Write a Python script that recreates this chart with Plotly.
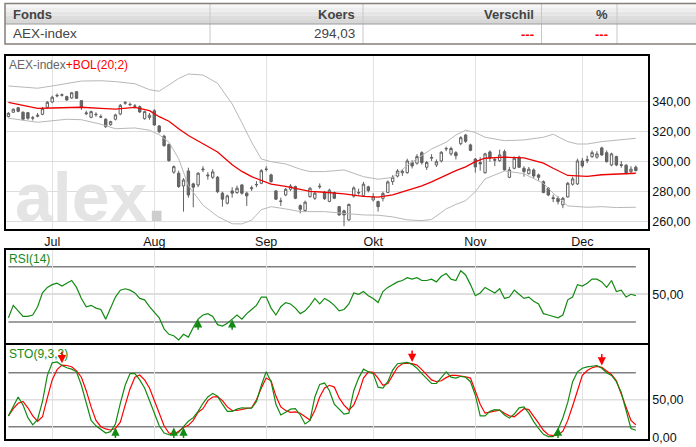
import pandas as pd
import plotly.graph_objects as go

W, H = 696, 447

# trading days shown on the chart (AEX, 20 jun - 16 dec 2011)
dates = pd.bdate_range("2011-06-20", "2011-12-16")
nl_months = {7: "Jul", 8: "Aug", 9: "Sep", 10: "Okt", 11: "Nov", 12: "Dec"}

opens = [330.1, 333.0, 336.0, 333.0, 332.7, 329.0, 330.3, 331.6, 336.3, 339.8,
         343.8, 344.3, 343.4, 342.5, 346.7, 340.7, 332.0, 329.6, 331.3, 329.7,
         328.3, 324.7, 328.3, 331.8, 339.0, 338.0, 337.2, 336.7, 328.7, 329.5,
         334.0, 323.8, 317.0, 311.5, 293.0, 292.3, 283.8, 293.8, 285.2, 284.5,
         294.6, 290.5, 289.6, 289.6, 279.0, 272.3, 280.5, 279.4, 284.5, 279.0,
         282.0, 284.5, 285.6, 294.8, 291.2, 280.5, 273.5, 277.8, 281.6, 283.4,
         270.7, 267.4, 276.7, 275.6, 283.2, 279.5, 273.5, 279.4, 270.0, 267.2,
         261.2, 277.0, 279.5, 277.3, 283.2, 274.5, 273.4, 275.5, 279.5, 286.7,
         290.4, 292.6, 292.7, 299.4, 299.0, 306.0, 296.3, 302.3, 297.8, 300.5,
         308.5, 305.2, 306.0, 312.0, 317.8, 311.2, 301.8, 299.5, 292.7, 306.5,
         301.5, 300.7, 306.7, 289.6, 295.6, 303.0, 295.6, 292.0, 294.5, 291.2,
         286.7, 282.3, 276.0, 275.6, 271.2, 276.5, 285.0, 285.2, 300.5, 300.7,
         303.4, 303.0, 309.2, 306.0, 297.8, 303.4, 298.0, 297.6, 293.4, 296.3]
highs = [333.0, 335.5, 336.5, 333.5, 333.0, 330.5, 332.5, 336.5, 340.5, 344.0,
         345.5, 345.5, 344.0, 346.5, 347.0, 341.0, 334.0, 334.0, 333.0, 331.5,
         329.0, 327.3, 332.0, 338.5, 340.5, 339.5, 338.5, 337.5, 334.0, 332.5,
         335.0, 324.5, 318.0, 312.0, 297.5, 294.0, 289.0, 296.0, 286.0, 293.0,
         297.0, 293.0, 295.0, 290.5, 280.0, 278.0, 283.0, 284.0, 285.0, 280.0,
         284.0, 287.0, 295.0, 297.0, 292.0, 281.0, 276.0, 282.5, 285.0, 284.0,
         271.5, 274.0, 283.0, 280.0, 285.5, 280.5, 282.0, 280.0, 270.5, 268.0,
         272.0, 283.5, 282.0, 286.5, 284.0, 279.0, 274.0, 280.0, 287.5, 291.0,
         295.0, 295.0, 302.0, 301.0, 305.0, 307.0, 300.5, 305.0, 301.5, 307.0,
         310.0, 310.0, 307.0, 317.0, 318.5, 312.0, 302.5, 303.0, 306.0, 307.5,
         303.0, 308.0, 308.0, 296.5, 303.5, 304.0, 297.0, 296.5, 295.5, 292.0,
         287.5, 283.0, 278.0, 277.0, 276.5, 286.5, 290.0, 302.0, 302.5, 304.0,
         307.5, 307.0, 310.0, 307.5, 306.0, 304.0, 300.5, 298.5, 297.0, 297.5]
lows = [329.5, 332.5, 333.0, 327.5, 328.0, 327.5, 329.5, 331.0, 335.5, 339.0,
        343.0, 343.5, 340.5, 342.0, 342.0, 334.5, 331.0, 329.0, 330.0, 329.0,
        322.5, 324.0, 327.5, 331.0, 338.0, 337.0, 335.5, 332.5, 328.0, 328.0,
        324.0, 319.0, 310.0, 300.0, 292.0, 282.5, 266.7, 276.0, 269.6, 283.0,
        293.0, 288.0, 288.5, 279.0, 270.0, 271.5, 276.0, 278.5, 278.0, 270.5,
        280.5, 283.0, 285.0, 293.5, 286.0, 274.5, 270.5, 277.0, 280.5, 275.0,
        265.5, 266.5, 276.0, 274.5, 282.0, 274.5, 273.0, 275.0, 264.0, 257.0,
        260.5, 276.0, 278.0, 276.5, 279.5, 273.5, 266.7, 273.5, 279.0, 284.5,
        289.5, 290.5, 292.0, 295.5, 298.0, 298.0, 294.5, 300.5, 296.5, 299.5,
        307.0, 304.0, 301.5, 311.0, 312.5, 307.0, 292.7, 294.0, 292.0, 300.0,
        297.0, 300.0, 294.0, 289.0, 295.0, 296.0, 290.0, 291.5, 289.0, 287.4,
        279.0, 277.0, 273.0, 271.5, 269.0, 276.0, 284.0, 284.5, 296.0, 299.0,
        302.5, 302.0, 304.0, 299.5, 297.0, 297.0, 296.0, 291.5, 292.5, 293.5]
closes = [332.3, 335.0, 333.6, 328.3, 329.0, 329.3, 330.9, 335.4, 339.6, 343.0,
          344.2, 344.6, 341.2, 346.0, 342.3, 336.3, 332.5, 333.4, 331.6, 330.0,
          323.4, 326.7, 331.2, 337.6, 339.4, 338.2, 337.0, 333.2, 333.4, 331.0,
          324.5, 320.0, 310.7, 300.7, 296.7, 283.4, 287.8, 277.8, 283.0, 292.3,
          295.0, 291.0, 293.2, 280.0, 275.0, 277.2, 279.0, 282.3, 279.0, 277.2,
          282.5, 284.8, 294.0, 295.0, 286.7, 275.0, 273.7, 281.6, 283.8, 275.6,
          268.3, 273.0, 282.3, 279.0, 283.6, 275.3, 281.0, 275.6, 264.5, 264.5,
          271.5, 282.5, 279.2, 285.0, 280.8, 276.5, 270.0, 278.7, 286.5, 289.6,
          293.8, 293.5, 300.5, 297.2, 303.4, 299.4, 299.4, 302.8, 300.0, 306.3,
          308.8, 308.8, 304.0, 316.0, 313.6, 307.6, 296.5, 298.5, 305.2, 302.5,
          301.0, 304.5, 294.5, 294.5, 302.3, 296.3, 293.4, 295.0, 290.5, 289.6,
          279.4, 277.8, 275.4, 273.4, 275.6, 285.6, 288.5, 300.5, 297.2, 301.3,
          306.0, 305.2, 304.5, 300.0, 305.2, 297.8, 297.6, 292.7, 295.0, 294.03]

# Bollinger (20;2) at these day numbers
bol_days = [0, 3, 6, 9, 12, 15, 19, 22, 26, 29, 31, 33, 35, 37, 40, 43, 46, 48, 50, 52,
            54, 57, 60, 62, 65, 69, 73, 76, 79, 82, 85, 87, 90, 92, 94, 96, 98, 102, 106, 110,
            112, 115, 117, 119, 122, 125, 129]
bol_upper = [350.5, 349.5, 349.0, 350.5, 352.3, 353.8, 354.0, 353.4, 352.0, 348.0,
             347.0, 351.0, 355.5, 358.5, 357.8, 352.3, 338.5, 326.0, 313.0, 301.8,
             300.0, 298.5, 295.0, 293.4, 293.4, 294.5, 290.0, 288.3, 289.5, 297.5,
             304.0, 308.5, 313.0, 317.8, 321.0, 319.5, 316.3, 314.0, 314.5, 316.3,
             318.3, 313.4, 311.8, 311.8, 313.4, 314.5, 315.6]
bol_mid = [339.6, 337.5, 335.5, 335.8, 336.2, 336.3, 335.5, 335.0, 336.2, 334.0,
           330.0, 327.0, 322.0, 317.5, 312.0, 306.5, 298.0, 293.5, 290.0, 287.5,
           285.0, 283.6, 281.5, 280.2, 279.6, 278.5, 276.8, 276.3, 277.8, 280.8,
           283.8, 286.5, 291.2, 294.0, 296.5, 300.0, 302.3, 303.0, 302.5, 299.0,
           295.6, 290.8, 290.5, 290.2, 291.3, 291.8, 292.3]
bol_lower = [329.0, 327.8, 326.3, 327.3, 328.3, 328.0, 325.0, 322.0, 322.5, 321.0,
             318.0, 313.0, 302.0, 284.0, 271.0, 263.5, 258.6, 258.5, 261.0, 268.0,
             270.0, 268.5, 266.7, 266.7, 266.7, 265.5, 264.5, 264.3, 263.2, 261.2,
             260.7, 261.5, 268.5, 271.5, 274.0, 280.0, 288.5, 293.8, 292.0, 285.5,
             279.0, 270.5, 269.8, 269.6, 270.0, 269.4, 269.6]

rsi = [33, 42, 38, 34, 34, 35, 41, 51, 55, 57,
       58, 56, 58, 60, 55, 47, 41, 42, 40, 39,
       32, 40, 48, 53, 54, 53, 51, 47, 46, 41,
       37, 33, 25, 21, 20, 17, 21, 19, 26, 32,
       35, 36, 34, 28, 27, 29, 32, 35, 32, 36,
       39, 42, 48, 48, 40, 35, 41, 44, 43, 40,
       36, 38, 42, 47, 43, 47, 45, 42, 38, 39,
       43, 51, 50, 52, 49, 47, 44, 52, 55, 57,
       59, 60, 62, 61, 62, 60, 60, 61, 59, 63,
       65, 61, 60, 67, 64, 57, 49, 51, 55, 53,
       51, 54, 47, 48, 53, 50, 47, 48, 45, 43,
       36, 35, 34, 33, 35, 46, 48, 57, 56, 58,
       61, 61, 59, 55, 60, 52, 53, 48, 50, 49]

sto_k = [32, 42, 53, 44, 30, 22, 28, 48, 77, 91,
         92, 88, 85.5, 84, 81, 66, 45, 27, 21, 17,
         13, 14.5, 23, 46, 66, 79, 79, 72, 63, 49,
         35, 21, 13, 11, 11, 13.5, 20, 26, 30, 37,
         46, 53, 57, 54, 45, 37, 37, 39.5, 41, 40.5,
         40.5, 48, 66, 81, 70, 45, 33, 36, 39.5, 40,
         33, 23, 27, 53, 67, 68.5, 60, 45, 40, 34,
         35, 60, 74, 84, 81, 79, 64, 63, 70, 83,
         90, 90.4, 91.5, 89.3, 85, 79, 74, 68, 68, 75,
         81, 75, 74, 76, 75, 70, 55, 32, 32, 37,
         39, 38.5, 33, 29.5, 34, 41, 42, 35, 25.6, 18,
         11.5, 9, 9, 17, 30, 47, 70, 81, 85, 86.5,
         87.5, 88, 85, 80, 77, 70, 58, 38, 18, 16]
sto_d = [32, 40, 46, 48, 41, 32, 26, 31, 52, 72,
         83.5, 88.5, 88, 86.7, 82, 75, 60, 42, 27, 20,
         17.5, 16.3, 18, 25, 44, 62, 75, 77.4, 72, 63,
         49, 34, 21, 13, 11.5, 15, 19, 21.5, 27, 36,
         40, 49, 53, 53.3, 49, 42, 38, 38, 39.6, 40.4,
         41, 50, 63, 74, 71, 54, 42, 38, 36, 36.5,
         35, 31, 27.4, 38, 53, 63, 66, 64, 52, 44,
         38.5, 44, 57, 74, 81, 80.4, 74, 66, 68, 77,
         86, 90, 90.7, 90, 88.5, 83.5, 78, 72, 70, 71,
         74.5, 77, 77, 76.5, 75.5, 74, 60, 45, 35, 36,
         37.5, 38.5, 35, 32, 31, 36, 40, 39, 32, 24,
         16, 11, 10, 10.5, 15, 27, 43, 60, 77, 82.5,
         85.5, 87, 86, 82, 78, 71, 57, 42, 27, 22]

# signal days (index in dates)
rsi_buy = [39, 46]
sto_buy = [22, 34, 36, 113]
sto_sell = [11, 83, 122]

price_ticks = [260, 280, 300, 320, 340]
rsi_levels = (30, 70)
sto_levels = (20, 80)

n = len(dates)
x = list(range(n))
month_pos = [i for i in range(1, n) if dates[i].month != dates[i - 1].month]
month_lbl = [nl_months[dates[i].month] for i in month_pos]

GREEN = "#138a13"
RED = "#ff0000"
FONT = "Liberation Sans, Arial, sans-serif"
NARROW = "Liberation Sans Narrow, Arial Narrow, Liberation Sans, sans-serif"


def px(v):
    return v / W


def py(v):
    return 1 - v / H


fig = go.Figure()

# price panel
fig.add_trace(go.Scatter(x=bol_days, y=bol_upper, mode="lines", line=dict(color="#b8b8b8", width=1), hoverinfo="skip"))
fig.add_trace(go.Scatter(x=bol_days, y=bol_lower, mode="lines", line=dict(color="#b8b8b8", width=1), hoverinfo="skip"))
fig.add_trace(go.Scatter(x=bol_days, y=bol_mid, mode="lines", line=dict(color="#ee0000", width=1.3), hoverinfo="skip"))
fig.add_trace(go.Candlestick(
    x=x, open=opens, high=highs, low=lows, close=closes,
    increasing=dict(line=dict(color="#606060", width=1), fillcolor="white"),
    decreasing=dict(line=dict(color="#606060", width=1), fillcolor="#686868"),
    whiskerwidth=0, xaxis="x", yaxis="y"))

# RSI panel
fig.add_trace(go.Scatter(x=x, y=rsi, mode="lines", line=dict(color=GREEN, width=1.2), xaxis="x2", yaxis="y2"))

# STO panel
fig.add_trace(go.Scatter(x=x, y=sto_d, mode="lines", line=dict(color=RED, width=1.2), xaxis="x3", yaxis="y3"))
fig.add_trace(go.Scatter(x=x, y=sto_k, mode="lines", line=dict(color=GREEN, width=1.2), xaxis="x3", yaxis="y3"))

shapes = []
for lvl in rsi_levels:
    shapes.append(dict(type="line", xref="x2", yref="y2", x0=0, x1=n - 1, y0=lvl, y1=lvl,
                       line=dict(color="#808080", width=1.5), layer="below"))
for lvl in sto_levels:
    shapes.append(dict(type="line", xref="x3", yref="y3", x0=0, x1=n - 1, y0=lvl, y1=lvl,
                       line=dict(color="#808080", width=1.5), layer="below"))
shapes.append(dict(type="line", xref="x3 domain", yref="y3", x0=0, x1=1, y0=50, y1=50,
                   line=dict(color="#dedede", width=1.5), layer="below"))

# quote table at the top
tb_l, tb_r, tb_t, tb_m, tb_b = 5, 700, 3.5, 24, 44
head_cols = ["#f7f7f7", "#eeeeee", "#e5e5e5", "#dddddd", "#d7d7d7"]
step = (tb_m - tb_t) / len(head_cols)
for k, c in enumerate(head_cols):
    shapes.append(dict(type="rect", xref="paper", yref="paper", x0=px(tb_l), x1=px(tb_r),
                       y0=py(tb_t + (k + 1) * step), y1=py(tb_t + k * step),
                       fillcolor=c, line=dict(width=0), layer="below"))
for cx in [210, 363, 541.5, 617]:
    shapes.append(dict(type="line", xref="paper", yref="paper", x0=px(cx), x1=px(cx),
                       y0=py(tb_t), y1=py(tb_b), line=dict(color="#c8c8c8", width=1)))
shapes.append(dict(type="line", xref="paper", yref="paper", x0=px(tb_l), x1=px(tb_r),
                   y0=py(tb_m), y1=py(tb_m), line=dict(color="#9a9a9a", width=1)))
shapes.append(dict(type="rect", xref="paper", yref="paper", x0=px(tb_l), x1=px(tb_r),
                   y0=py(tb_b), y1=py(tb_t), line=dict(color="#857f7a", width=1.5)))

ann = []


def label(text, xp, yp, anchor="left", size=13, color="#444", family=NARROW):
    ann.append(dict(text=text, x=px(xp), y=py(yp), xref="paper", yref="paper", xanchor=anchor,
                    yanchor="middle", showarrow=False, font=dict(family=family, size=size, color=color)))


label("<b>Fonds</b>", 11, 14)
label("<b>Koers</b>", 357, 14, "right")
label("<b>Verschil</b>", 536, 14, "right")
label("<b>%</b>", 610, 14, "right")
label("AEX-index", 11, 33.5, size=13.5)
label("294,03", 357, 33.5, "right", size=13.5)
label("<b>---</b>", 536, 34, "right", color=RED)
label("<b>---</b>", 610, 34, "right", color=RED)

# watermark and panel titles
label("<b>alex<span style='color:#cdcdcd'>.</span></b>", 13, 197, size=68, color="#e4e4e4", family=FONT)
label("AEX-index<span style='color:#ff0000'>+BOL(20;2)</span>", 7, 65, size=12, color="#666", family=FONT)
label("RSI(14)", 7, 258.5, size=12, color=GREEN, family=FONT)
label("STO(9,3,3)", 7, 354, size=12, color=GREEN, family=FONT)

arrow = dict(text="", showarrow=True, arrowhead=2, arrowsize=1.1, arrowwidth=1.5, ax=0, standoff=0)
for d in rsi_buy:
    ann.append(dict(arrow, x=d, y=rsi[d], xref="x2", yref="y2", ay=12, arrowcolor=GREEN))
for d in sto_buy:
    ann.append(dict(arrow, x=d, y=sto_levels[0] - 1, xref="x3", yref="y3", ay=12, arrowcolor=GREEN))
for d in sto_sell:
    ann.append(dict(arrow, x=d, y=max(sto_k[d], sto_d[d]) + 2, xref="x3", yref="y3", ay=-13, arrowcolor=RED))

xdom = [px(6), px(648)]
frame = dict(showline=True, mirror=True, linecolor="black", linewidth=1.5, zeroline=False, ticks="")
xbase = dict(frame, domain=xdom, range=[-0.5, 131.5], tickvals=month_pos, ticktext=month_lbl,
             showgrid=True, gridcolor="#e2e2e2", gridwidth=1)
ybase = dict(frame, side="right", tickfont=dict(family=FONT, size=12.5, color="#111"))

fig.update_layout(
    width=W, height=H, margin=dict(l=0, r=0, t=0, b=0, autoexpand=False),
    paper_bgcolor="white", plot_bgcolor="white", showlegend=False,
    font=dict(family=FONT, size=12, color="#111"),
    xaxis=dict(xbase, anchor="y", rangeslider=dict(visible=False),
               tickfont=dict(family=FONT, size=12.5, color="#111")),
    yaxis=dict(ybase, domain=[py(229), py(56)], range=[255.1, 370.5], tickvals=price_ticks,
               ticktext=[f"{v:.2f}".replace(".", ",") for v in price_ticks],
               showgrid=True, gridcolor="#dcdcdc"),
    xaxis2=dict(xbase, anchor="y2", matches="x", showticklabels=False),
    yaxis2=dict(ybase, domain=[py(343.3), py(249.7)], range=[14.5, 82.3], tickvals=[50],
                ticktext=["50,00"], showgrid=True, gridcolor="#dedede", gridwidth=1.5),
    xaxis3=dict(xbase, anchor="y3", matches="x", showticklabels=False),
    yaxis3=dict(ybase, domain=[py(439), py(345)], range=[6.3, 110.8], tickvals=[50, 7.8],
                ticktext=["50,00", "0,00"], showgrid=False),
    shapes=shapes, annotations=ann,
)

# the page's default body margin would push the 696x447 figure out of the window
fig.write_html("out.html", config={"displayModeBar": False},
               post_script="document.body.style.margin='0';")
